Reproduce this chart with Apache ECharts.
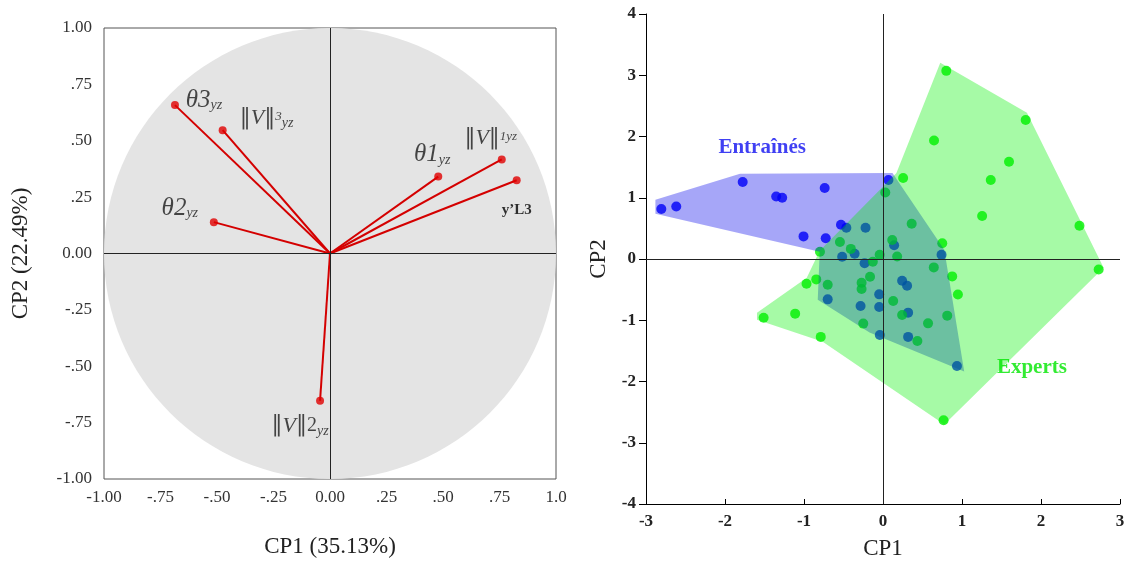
<!DOCTYPE html>
<html><head><meta charset="utf-8">
<script src="https://cdn.jsdelivr.net/npm/echarts@6/dist/echarts.min.js"></script>
<style>html,body{margin:0;padding:0;background:#fff}#c{width:1129px;height:565px}</style>
</head><body><div id="c"></div>
<script>
// ---- Left panel: loading vectors ----
const vecX = [-0.686, -0.475, -0.514, 0.479, 0.760, 0.826, -0.044];
const vecY = [0.658, 0.547, 0.139, 0.341, 0.417, 0.325, -0.653];
const vecLabels = [
  '{th|θ3}{sub|yz}',
  '{bar|‖}{v|V}{bar|‖}{sup|3}{sub|yz}',
  '{th|θ2}{sub|yz}',
  '{th|θ1}{sub|yz}',
  '{bar|‖}{v|V}{bar|‖}{sup|1}{sup|yz}',
  '{b|y’L3}',
  '{bar|‖}{v|V}{bar|‖}{num|2}{sub|yz}'
];
const leftTicks = [-1, -0.75, -0.5, -0.25, 0, 0.25, 0.5, 0.75, 1];
const leftXTickLabels = ['-1.00', '-.75', '-.50', '-.25', '0.00', '.25', '.50', '.75', '1.0'];
const leftYTickLabels = ['-1.00', '-.75', '-.50', '-.25', '0.00', '.25', '.50', '.75', '1.00'];
const leftXName = 'CP1 (35.13%)';
const leftYName = 'CP2 (22.49%)';

// ---- Right panel: individual scores ----
const entrX = [-2.806, -2.617, -1.776, -1.352, -1.276, -0.738, -0.532, -1.006, -0.725, 0.069, -0.464, -0.221, -0.517, -0.359, -0.233, 0.141, 0.741, 0.242, 0.305, -0.700, -0.048, -0.284, -0.048, 0.318, -0.040, 0.318, 0.936];
const entrY = [0.816, 0.858, 1.256, 1.021, 1.000, 1.158, 0.560, 0.369, 0.339, 1.289, 0.511, 0.511, 0.038, 0.086, -0.069, 0.225, 0.070, -0.354, -0.436, -0.659, -0.577, -0.767, -0.783, -0.876, -1.240, -1.272, -1.746];
const expX = [0.801, 1.806, 0.646, 1.595, 1.364, 0.255, 1.255, 2.487, 2.730, 0.363, 0.750, 0.029, 0.117, 0.179, 0.643, 0.876, 0.948, -0.798, -0.545, -0.407, -0.042, -0.129, -0.164, -0.271, -0.271, -0.700, -0.845, -0.968, 0.129, 0.242, 0.570, 0.813, -0.250, 0.435, -1.112, -1.511, -0.788, 0.767];
const expY = [3.072, 2.268, 1.935, 1.587, 1.289, 1.321, 0.701, 0.543, -0.170, 0.576, 0.258, 1.085, 0.310, 0.042, -0.137, -0.284, -0.579, 0.119, 0.279, 0.165, 0.070, -0.044, -0.289, -0.387, -0.489, -0.419, -0.333, -0.403, -0.685, -0.914, -1.051, -0.925, -1.055, -1.338, -0.892, -0.958, -1.272, -2.633];
// group envelopes (outline vertices, in CP units)
const entrHullX = [-2.881, -1.810, 0.120, 0.776, 1.028, -0.170, -0.826, -0.801, -2.881];
const entrHullY = [0.967, 1.392, 1.406, 0.152, -1.838, -1.202, -0.664, 0.119, 0.739];
const expHullX = [0.725, 1.822, 2.793, 0.776, -0.763, -1.595, -1.595, -0.965, -0.801, 0.170];
const expHullY = [3.204, 2.387, -0.142, -2.700, -1.349, -0.990, -0.876, -0.307, 0.135, 1.406];
const groupNames = ['Entraînés', 'Experts'];
const groupLabelPos = [[-1.53, 1.82], [1.885, -1.77]];
const rightXTicks = [-3, -2, -1, 0, 1, 2, 3];
const rightYTicks = [-4, -3, -2, -1, 0, 1, 2, 3, 4];
const rightXName = 'CP1';
const rightYName = 'CP2';

// ---- style config ----
const SERIF = '"Liberation Serif","DejaVu Serif",serif';
const labelOffsets = [[29, -5], [44, -12], [-34, -14], [-6, -22], [-11, -21], [0, 30], [-20, 25]];
const richStyles = {
  th: {fontFamily: SERIF, fontStyle: 'italic', fontSize: 25, color: '#1a1a1a'},
  sub: {fontFamily: SERIF, fontStyle: 'italic', fontSize: 14, color: '#1a1a1a', padding: [11, 0, 0, 0]},
  sup: {fontFamily: SERIF, fontStyle: 'italic', fontSize: 13, color: '#1a1a1a', padding: [0, 0, 4, 0]},
  num: {fontFamily: SERIF, fontSize: 20, color: '#1a1a1a'},
  bar: {fontFamily: '"DejaVu Serif",serif', fontSize: 22, color: '#1a1a1a'},
  v: {fontFamily: SERIF, fontStyle: 'italic', fontSize: 22, color: '#1a1a1a'},
  b: {fontFamily: SERIF, fontWeight: 'bold', fontSize: 15, color: '#000'}
};

function hullSeries(xs, ys, color, z, extra) {
  return Object.assign({
    type: 'custom', xAxisIndex: 1, yAxisIndex: 1, z: z, silent: true,
    data: [[0, 0]],
    renderItem: function (params, api) {
      const poly = xs.map((x, i) => api.coord([x, ys[i]]));
      return {type: 'polygon', shape: {points: poly}, style: {fill: color}};
    }
  }, extra || {});
}

const chart = echarts.init(document.getElementById('c'), null, {renderer: 'canvas'});
const leftFmt = arr => v => { const i = leftTicks.findIndex(t => Math.abs(t - v) < 1e-6); return i >= 0 ? arr[i] : ''; };
const axisNameStyle = {fontFamily: SERIF, fontSize: 23, color: '#222'};

chart.setOption({
  backgroundColor: '#fff',
  animation: false,
  grid: [
    {left: 104, top: 28, width: 452, height: 451, show: true, borderColor: '#555', borderWidth: 1, backgroundColor: 'transparent'},
    {left: 646, top: 14, width: 474, height: 490}
  ],
  xAxis: [
    {gridIndex: 0, type: 'value', min: -1, max: 1, interval: 0.25,
      axisLine: {show: false}, axisTick: {show: false}, splitLine: {show: false},
      axisLabel: {formatter: leftFmt(leftXTickLabels), fontFamily: SERIF, fontSize: 17, color: '#333', margin: 10},
      name: leftXName, nameLocation: 'middle', nameGap: 56, nameTextStyle: axisNameStyle},
    {gridIndex: 1, type: 'value', min: -3, max: 3, interval: 1,
      axisLine: {show: true, onZero: false, lineStyle: {color: '#000', width: 1}},
      axisTick: {show: true, inside: true, length: 5, lineStyle: {color: '#000'}},
      splitLine: {show: false},
      axisLabel: {fontFamily: SERIF, fontSize: 17, fontWeight: 'bold', color: '#222', margin: 9},
      name: rightXName, nameLocation: 'middle', nameGap: 33, nameTextStyle: axisNameStyle}
  ],
  yAxis: [
    {gridIndex: 0, type: 'value', min: -1, max: 1, interval: 0.25,
      axisLine: {show: false}, axisTick: {show: false}, splitLine: {show: false},
      axisLabel: {formatter: leftFmt(leftYTickLabels), fontFamily: SERIF, fontSize: 17, color: '#333', margin: 12},
      name: leftYName, nameLocation: 'middle', nameGap: 72, nameTextStyle: axisNameStyle},
    {gridIndex: 1, type: 'value', min: -4, max: 4, interval: 1,
      axisLine: {show: true, onZero: false, lineStyle: {color: '#000', width: 1}},
      axisTick: {show: true, inside: false, length: 7, lineStyle: {color: '#000'}},
      splitLine: {show: false},
      axisLabel: {fontFamily: SERIF, fontSize: 17, fontWeight: 'bold', color: '#222', margin: 10},
      name: rightYName, nameLocation: 'middle', nameGap: 36, nameTextStyle: axisNameStyle}
  ],
  series: [
    // gray unit circle + crosshair
    {type: 'custom', xAxisIndex: 0, yAxisIndex: 0, z: 1, silent: true, data: [[0, 0]],
      renderItem: function (params, api) {
        const c = api.coord([0, 0]);
        const r = api.size([1, 1]);
        return {type: 'ellipse', shape: {cx: c[0], cy: c[1], rx: r[0], ry: r[1]}, style: {fill: '#e4e4e4'}};
      },
      markLine: {silent: true, symbol: 'none', label: {show: false}, animation: false,
        lineStyle: {color: '#222', width: 1, type: 'solid'},
        data: [{xAxis: 0}, {yAxis: 0}]}
    },
    // vectors
    {type: 'lines', coordinateSystem: 'cartesian2d', xAxisIndex: 0, yAxisIndex: 0, z: 3, silent: true,
      lineStyle: {color: '#d40000', width: 2, opacity: 1},
      data: vecX.map((x, i) => ({coords: [[0, 0], [x, vecY[i]]]}))},
    {type: 'scatter', xAxisIndex: 0, yAxisIndex: 0, z: 4, silent: true,
      symbol: 'circle', symbolSize: 8, itemStyle: {color: '#e00000'},
      data: vecX.map((x, i) => ({value: [x, vecY[i]],
        label: {show: true, position: 'inside', align: 'center', verticalAlign: 'middle',
          offset: labelOffsets[i], formatter: vecLabels[i], rich: richStyles}}))},
    // right panel points
    {type: 'scatter', name: groupNames[0], xAxisIndex: 1, yAxisIndex: 1, z: 2, silent: true,
      symbol: 'circle', symbolSize: 10, itemStyle: {color: '#0000ff'},
      data: entrX.map((x, i) => [x, entrY[i]])},
    {type: 'scatter', name: groupNames[1], xAxisIndex: 1, yAxisIndex: 1, z: 2, silent: true,
      symbol: 'circle', symbolSize: 10, itemStyle: {color: '#00f000'},
      data: expX.map((x, i) => [x, expY[i]])},
    hullSeries(entrHullX, entrHullY, 'rgba(0,0,235,0.35)', 3),
    hullSeries(expHullX, expHullY, 'rgba(0,240,0,0.35)', 4, {
      markLine: {silent: true, symbol: 'none', label: {show: false}, animation: false,
        lineStyle: {color: '#222', width: 1, type: 'solid'},
        data: [{xAxis: 0}, {yAxis: 0}]}
    }),
    // group labels
    {type: 'scatter', xAxisIndex: 1, yAxisIndex: 1, z: 6, silent: true, symbolSize: 0,
      data: groupLabelPos.map((p, i) => ({value: p, name: groupNames[i],
        label: {show: true, position: 'inside', formatter: groupNames[i],
          fontFamily: SERIF, fontWeight: 'bold', fontSize: 21,
          color: i === 0 ? '#1010f0' : '#00e600'}}))}
  ]
});
</script></body></html>
